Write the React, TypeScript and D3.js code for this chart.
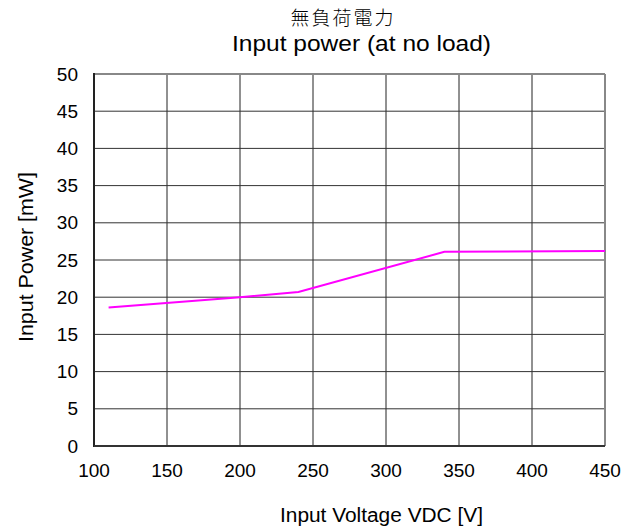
import { useEffect, useRef } from 'react';
import * as d3 from 'd3';

const voltage = [110, 200, 240, 340, 450];
const power = [18.6, 20.0, 20.7, 26.1, 26.2];
const xTicks = [100, 150, 200, 250, 300, 350, 400, 450];
const yTicks = [0, 5, 10, 15, 20, 25, 30, 35, 40, 45, 50];

const titleJa = '無負荷電力';
const titleEn = 'Input power (at no load)';
const xLabel = 'Input Voltage VDC [V]';
const yLabel = 'Input Power [mW]';

const W = 639;
const H = 531;

export default function App() {
  const svgRef = useRef<SVGSVGElement>(null);

  useEffect(() => {
    if (!svgRef.current) return;
    const margins = { top: 74, right: 34, bottom: 85, left: 94 };
    const width = W - margins.left - margins.right;
    const height = H - margins.top - margins.bottom;
    const font = '"Liberation Sans", Arial, sans-serif';

    d3.select(svgRef.current).selectAll('*').remove();
    const svg = d3.select(svgRef.current).attr('width', W).attr('height', H);

    svg.append('rect').attr('width', W).attr('height', H).attr('fill', '#fff');

    const g = svg.append('g').attr('transform', `translate(${margins.left},${margins.top})`);

    const xScale = d3.scaleLinear().domain([100, 450]).range([0, width]);
    const yScale = d3.scaleLinear().domain([0, 50]).range([height, 0]);

    // 网格
    g.selectAll('.vgrid')
      .data(xTicks.slice(1, -1))
      .enter()
      .append('line')
      .attr('x1', d => xScale(d))
      .attr('x2', d => xScale(d))
      .attr('y1', 0)
      .attr('y2', height)
      .attr('stroke', '#222')
      .attr('stroke-width', 1);

    g.selectAll('.hgrid')
      .data(yTicks.slice(1, -1))
      .enter()
      .append('line')
      .attr('x1', 0)
      .attr('x2', width)
      .attr('y1', d => yScale(d))
      .attr('y2', d => yScale(d))
      .attr('stroke', '#333')
      .attr('stroke-width', 1);

    // 边框：上/右偏灰，左/下黑
    g.append('line').attr('x1', 0).attr('x2', width).attr('y1', 0).attr('y2', 0)
      .attr('stroke', '#888').attr('stroke-width', 2);
    g.append('line').attr('x1', width).attr('x2', width).attr('y1', 0).attr('y2', height)
      .attr('stroke', '#888').attr('stroke-width', 2);
    g.append('line').attr('x1', 0).attr('x2', 0).attr('y1', -1).attr('y2', height + 1)
      .attr('stroke', '#222').attr('stroke-width', 2);
    g.append('line').attr('x1', 0).attr('x2', width).attr('y1', height).attr('y2', height)
      .attr('stroke', '#333').attr('stroke-width', 2);

    // 刻度标签
    g.selectAll('.ylab')
      .data(yTicks)
      .enter()
      .append('text')
      .attr('x', -16)
      .attr('y', d => yScale(d))
      .attr('dy', '0.35em')
      .attr('text-anchor', 'end')
      .attr('font-family', font)
      .attr('font-size', 19)
      .attr('fill', '#000')
      .text(d => d);

    g.selectAll('.xlab')
      .data(xTicks)
      .enter()
      .append('text')
      .attr('x', d => xScale(d))
      .attr('y', height + 31)
      .attr('text-anchor', 'middle')
      .attr('font-family', font)
      .attr('font-size', 19)
      .attr('fill', '#000')
      .text(d => d);

    // 数据线
    const line = d3.line<number>()
      .x((_, i) => xScale(voltage[i]))
      .y(d => yScale(d));

    g.append('path')
      .datum(power)
      .attr('fill', 'none')
      .attr('stroke', '#ff00ff')
      .attr('stroke-width', 2)
      .attr('d', line);

    // 标题与轴标题
    svg.append('text')
      .attr('x', 343)
      .attr('y', 25)
      .attr('text-anchor', 'middle')
      .attr('font-family', '"Noto Sans CJK TC", sans-serif')
      .attr('font-weight', 300)
      .attr('font-size', 19)
      .attr('letter-spacing', 2)
      .text(titleJa);

    svg.append('text')
      .attr('x', 361.5)
      .attr('y', 51)
      .attr('text-anchor', 'middle')
      .attr('font-family', font)
      .attr('font-size', 21.5)
      .attr('textLength', 259)
      .attr('lengthAdjust', 'spacingAndGlyphs')
      .text(titleEn);

    svg.append('text')
      .attr('x', 381.5)
      .attr('y', 522)
      .attr('text-anchor', 'middle')
      .attr('font-family', font)
      .attr('font-size', 19.5)
      .attr('textLength', 203)
      .attr('lengthAdjust', 'spacingAndGlyphs')
      .text(xLabel);

    svg.append('text')
      .attr('transform', `translate(33,257) rotate(-90)`)
      .attr('text-anchor', 'middle')
      .attr('font-family', font)
      .attr('font-size', 20)
      .attr('textLength', 170)
      .attr('lengthAdjust', 'spacingAndGlyphs')
      .text(yLabel);
  }, []);

  return (
    <div style={{ position: 'absolute', left: 0, top: 0 }}>
      <svg ref={svgRef} style={{ display: 'block' }} />
    </div>
  );
}
